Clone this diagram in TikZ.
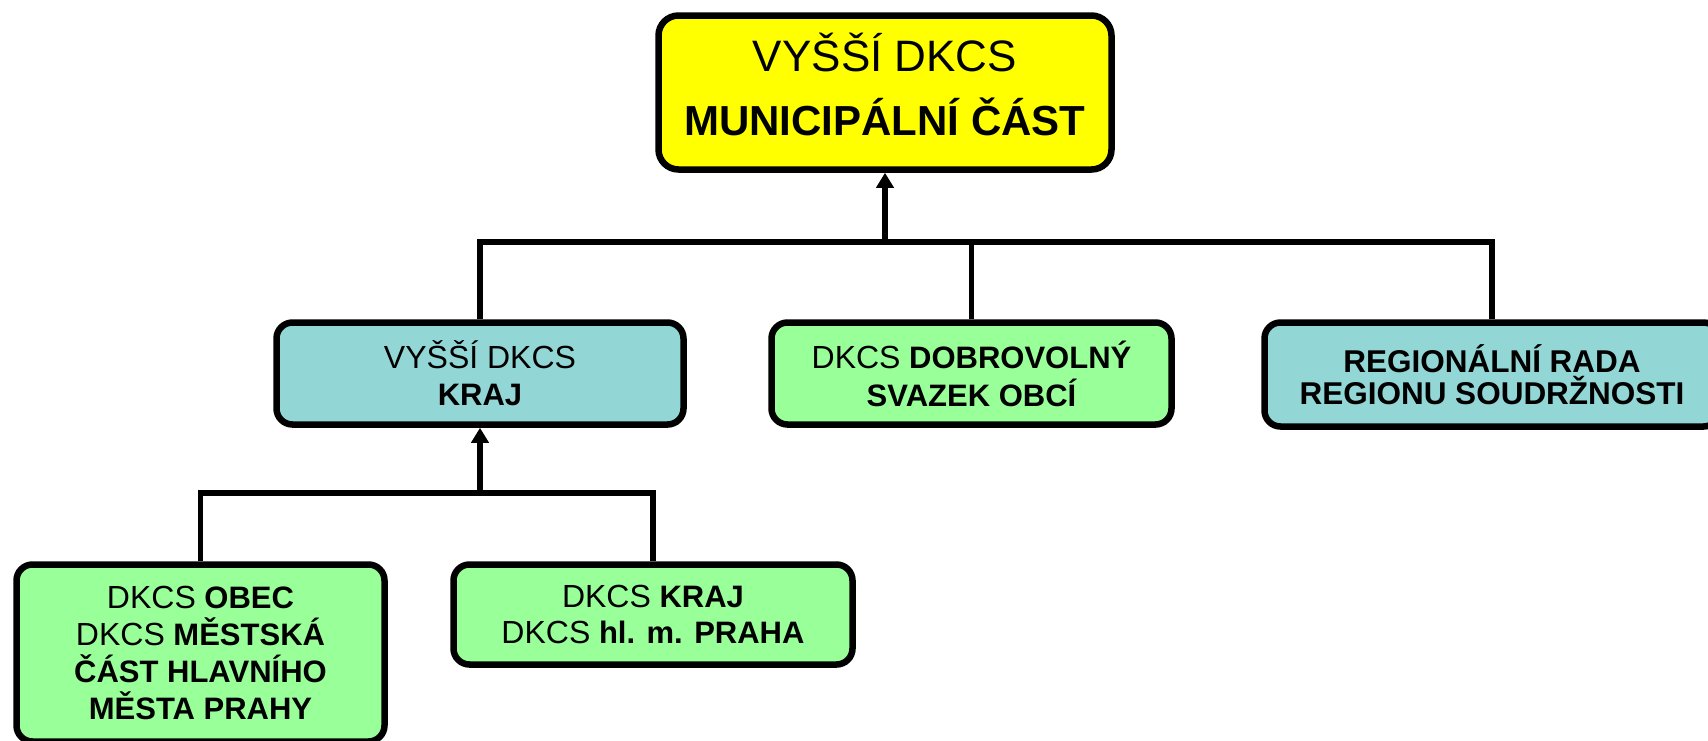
\documentclass[tikz,border=0pt]{standalone}
\usepackage{fontspec}
\setmainfont{Liberation Sans}
\usetikzlibrary{arrows.meta}
\definecolor{topyellow}{RGB}{255,255,0}
\definecolor{boxgreen}{RGB}{153,255,153}
\definecolor{boxteal}{RGB}{146,214,214}
\newcommand\rgA[1]{{\fontsize{44}{64}\selectfont\mdseries #1}}
\newcommand\rgB[1]{{\fontsize{32}{36.7}\selectfont\mdseries #1}}
\begin{document}
\begin{tikzpicture}[x=1pt,y=-1pt,
  box/.style={draw=black, line width=6.5pt, rounded corners=16pt, inner sep=0pt, align=center},
  conn/.style={line width=5.5pt},
  arr/.style={conn, -{Triangle[width=17pt,length=15pt]}},
  lower/.style={box, font=\fontsize{31}{36.7}\selectfont\bfseries}]
\useasboundingbox (0,0) rectangle (1708,740);
\fill[white] (0,0) rectangle (1708,740);
\clip (0,0) rectangle (1708,740);

\node[box, fill=topyellow, rounded corners=20pt, minimum width=453pt, minimum height=154pt,
      text depth=17pt, font=\fontsize{42}{64}\selectfont\bfseries] (top) at (885,92.5)
  {\rgA{VYŠŠÍ DKCS}\\MUNICIPÁLNÍ ČÁST};

\node[lower, fill=boxteal, minimum width=407pt, minimum height=102pt] (kraj) at (480,373.5)
  {\rgB{VYŠŠÍ DKCS}\\KRAJ};
\node[lower, fill=boxgreen, minimum width=400pt, minimum height=102pt,
      font=\fontsize{31}{38}\selectfont\bfseries] (dob) at (971.5,373.5)
  {\rgB{DKCS} DOBROVOLNÝ\\SVAZEK OBCÍ};
\node[lower, fill=boxteal, minimum width=455pt, minimum height=104pt,
      font=\fontsize{31.5}{32}\selectfont\bfseries] (reg) at (1492,374.5)
  {REGIONÁLNÍ RADA\\REGIONU SOUDRŽNOSTI};
\node[lower, fill=boxgreen, minimum width=368pt, minimum height=177pt] (obec) at (200.5,653)
  {\rgB{DKCS} OBEC\\\rgB{DKCS} MĚSTSKÁ\\ČÁST HLAVNÍHO\\MĚSTA PRAHY};
\node[lower, fill=boxgreen, minimum width=399pt, minimum height=100pt] (praha) at (653,614.5)
  {\rgB{DKCS} KRAJ\\\rgB{DKCS} hl. m. PRAHA};

\coordinate (j1) at (885,242);
\coordinate (j2) at (480,493);
\draw[conn] (kraj.north) -- (kraj.north |- j1) -- (reg.north |- j1) -- (reg.north);
\draw[conn] (dob.north) -- (dob.north |- j1);
\draw[arr] (j1) -- (top.south);
\draw[conn] (obec.north) -- (obec.north |- j2) -- (praha.north |- j2) -- (praha.north);
\draw[arr] (j2) -- (kraj.south);
\end{tikzpicture}
\end{document}
